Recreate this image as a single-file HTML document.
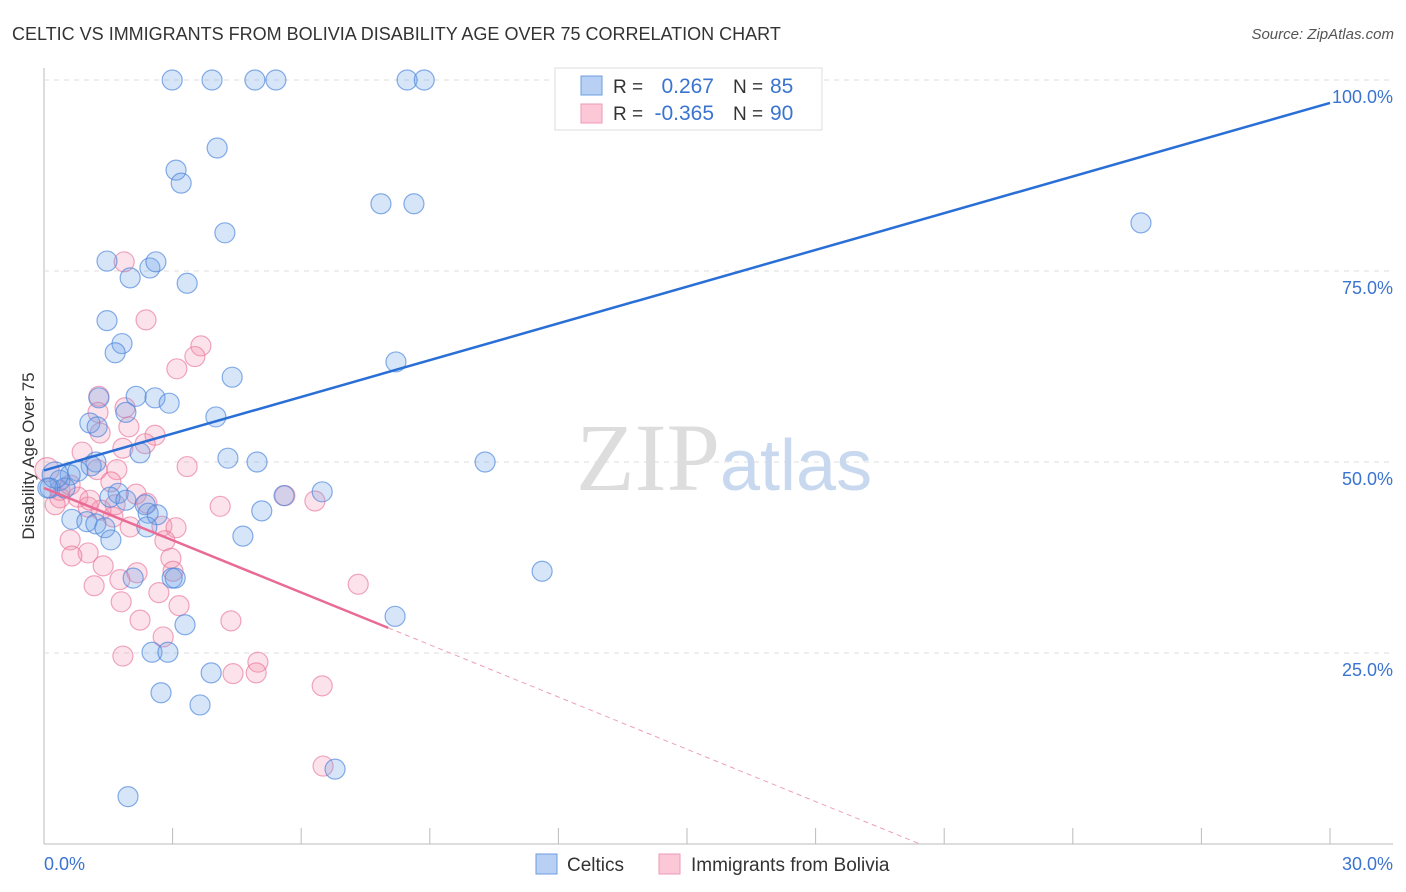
<!DOCTYPE html>
<html><head><meta charset="utf-8"><style>
body{margin:0;background:#fff;font-family:"Liberation Sans",sans-serif}
svg{display:block}
</style></head><body>
<svg id="c" width="1406" height="892">
<text x="12" y="40" font-size="18" fill="#333">CELTIC VS IMMIGRANTS FROM BOLIVIA DISABILITY AGE OVER 75 CORRELATION CHART</text>
<text x="1394" y="39" font-size="15" fill="#555" text-anchor="end" font-style="italic">Source: ZipAtlas.com</text>
<text x="0" y="0" transform="translate(34,456) rotate(-90)" font-size="17" fill="#333" text-anchor="middle">Disability Age Over 75</text>
<g id="grid"></g>
<text x="720" y="490" font-size="96" fill="#ddd" text-anchor="end" font-family="Liberation Serif,serif">ZIP</text>
<text x="720" y="490" font-size="72" fill="#c8d8ef">atlas</text>
<g id="pts"></g>
<g id="lines"></g>
<g>
<rect x="555" y="68" width="267" height="62" fill="#fff" stroke="#ddd"/>
<rect x="581" y="76" width="21" height="19" fill="#b7d0f4" stroke="#6d9de0"/>
<rect x="581" y="104" width="21" height="19" fill="#fcc8d8" stroke="#ee9ab6"/>
<text x="613" y="93" font-size="19" fill="#333">R =</text>
<text x="714" y="93" font-size="21" fill="#3a74d0" text-anchor="end">0.267</text>
<text x="733" y="93" font-size="19" fill="#333">N =</text>
<text x="770" y="93" font-size="21" fill="#3a74d0">85</text>
<text x="613" y="120" font-size="19" fill="#333">R =</text>
<text x="714" y="120" font-size="21" fill="#3a74d0" text-anchor="end">-0.365</text>
<text x="733" y="120" font-size="19" fill="#333">N =</text>
<text x="770" y="120" font-size="21" fill="#3a74d0">90</text>
</g>
<g>
<rect x="536" y="854" width="21" height="20" fill="#b7d0f4" stroke="#6d9de0"/>
<text x="567" y="871" font-size="19" fill="#333">Celtics</text>
<rect x="659" y="854" width="21" height="20" fill="#fcc8d8" stroke="#ee9ab6"/>
<text x="691" y="871" font-size="19" fill="#333">Immigrants from Bolivia</text>
</g>
</svg>
<script>
const xTicks=[0,3,6,9,12,15,18,21,24,27,30];
const yTicks=[25,50,75,100];
const celticsX=[2.99,3.92,4.92,5.41,8.47,8.87,3.08,3.20,4.04,4.22,7.86,8.63,25.59,1.47,2.01,2.47,2.61,3.34,1.47,1.82,1.66,4.39,8.21,2.15,2.59,2.92,1.91,1.28,4.01,1.07,1.24,2.24,4.29,4.97,10.29,1.21,1.10,0.79,0.61,0.37,0.14,0.49,1.73,1.54,1.91,5.60,6.49,2.36,2.43,2.64,5.08,0.65,1.00,1.21,1.42,2.40,1.56,4.64,2.08,2.99,3.06,3.29,8.19,11.62,2.52,2.89,2.73,3.90,3.64,6.79,1.96,0.26,0.09];
const celticsY=[100,100,100,100,100,100,88.2,86.5,91.1,80.0,83.8,83.8,81.3,76.3,74.1,75.4,76.2,73.4,68.5,65.5,64.3,61.1,63.1,58.6,58.4,57.7,56.5,58.4,55.9,55.1,54.6,51.2,50.5,50.0,50.0,50.0,49.5,48.8,48.3,47.6,46.6,46.6,45.9,45.4,45.0,45.6,46.1,44.4,43.3,43.1,43.6,42.5,42.2,41.9,41.4,41.5,39.8,40.3,34.8,34.8,34.8,28.7,29.8,35.7,25.1,25.1,19.8,22.4,18.2,9.8,6.2,48.3,46.6];
const boliviaX=[1.87,2.38,3.66,3.52,3.10,1.28,1.26,1.89,1.31,1.98,2.59,2.36,0.89,1.84,3.34,1.70,1.24,0.07,1.56,2.15,2.40,0.79,0.37,0.26,1.03,1.33,4.11,5.62,6.32,1.61,2.01,2.75,3.08,0.61,2.82,2.96,1.03,0.65,1.38,3.01,2.17,1.77,1.17,2.68,7.33,1.80,3.15,2.24,4.36,2.78,1.84,4.99,4.95,4.41,6.49,6.51,0.37,0.61,1.07,1.66];
const boliviaY=[76.2,68.6,65.2,63.8,62.2,58.6,56.5,57.1,53.8,54.6,53.5,52.4,51.3,51.8,49.4,49.0,49.0,49.0,47.4,45.8,44.6,45.4,45.3,44.4,44.1,43.7,44.2,45.6,44.9,42.8,41.5,41.6,41.4,39.8,39.7,37.4,38.1,37.7,36.4,35.7,35.5,34.6,33.8,32.9,34.0,31.7,31.2,29.3,29.2,27.1,24.6,23.8,22.4,22.3,20.7,10.2,46.3,47.0,45.0,44.4];
const celticsTrend=[48.9,97.0];
const boliviaTrend=[46.6,-2.28];
const NS='http://www.w3.org/2000/svg';
const X=v=>44+v/30*1286, Y=v=>844-v/100*764;
function mk(t,a,p){const e=document.createElementNS(NS,t);for(const k in a)e.setAttribute(k,a[k]);p.appendChild(e);return e;}
const grid=document.getElementById('grid');
mk('line',{x1:44,y1:68,x2:44,y2:844,stroke:'#bbb'},grid);
mk('line',{x1:44,y1:844,x2:1393,y2:844,stroke:'#bbb'},grid);
yTicks.forEach(t=>{
 const l=mk('line',{x1:44,y1:Y(t),x2:1393,y2:Y(t),stroke:'#ddd','stroke-dasharray':'5,5'},grid);
 
 
 const tx=mk('text',{x:1393,y:Y(t)+23,'font-size':18,fill:'#3a74d0','text-anchor':'end'},grid);
 tx.textContent=t.toFixed(1)+'%';
 
 
});
xTicks.forEach((t,i)=>{
 if(i>0){const l=mk('line',{x1:X(t),y1:828,x2:X(t),y2:844,stroke:'#bbb'},grid);
 
 }
});
[[0,'start',44],[30,'end',1393]].forEach(([t,a,px])=>{
 const tx=mk('text',{x:px,y:870,'font-size':18,fill:'#3a74d0','text-anchor':a},grid);
 tx.textContent=t.toFixed(1)+'%';
 
 
});
const pts=document.getElementById('pts');
boliviaX.forEach((x,i)=>{
 const c=mk('circle',{cx:X(x),cy:Y(boliviaY[i]),r:i==17?12:10,fill:'rgba(244,140,170,0.25)',stroke:'rgba(232,110,150,0.6)','stroke-width':1.2},pts);
 
 
});
celticsX.forEach((x,i)=>{
 const c=mk('circle',{cx:X(x),cy:Y(celticsY[i]),r:i==71?13:10,fill:'rgba(110,160,230,0.28)',stroke:'rgba(70,130,220,0.65)','stroke-width':1.2},pts);
 
 
});
const ln=document.getElementById('lines');
const bl=mk('line',{x1:X(0),y1:Y(celticsTrend[0]),x2:X(30),y2:Y(celticsTrend[1]),stroke:'#2a6fd6','stroke-width':2.5},ln);


const pe=8.03, pz=-boliviaTrend[0]/boliviaTrend[1];
const pl=mk('line',{x1:X(0),y1:Y(boliviaTrend[0]),x2:X(pe),y2:Y(boliviaTrend[0]+boliviaTrend[1]*pe),stroke:'#e86a95','stroke-width':2.5},ln);


const pd=mk('line',{x1:X(pe),y1:Y(boliviaTrend[0]+boliviaTrend[1]*pe),x2:X(pz),y2:Y(0),stroke:'#eea0b8','stroke-width':1,'stroke-dasharray':'5,4'},ln);


</script>
</body></html>
